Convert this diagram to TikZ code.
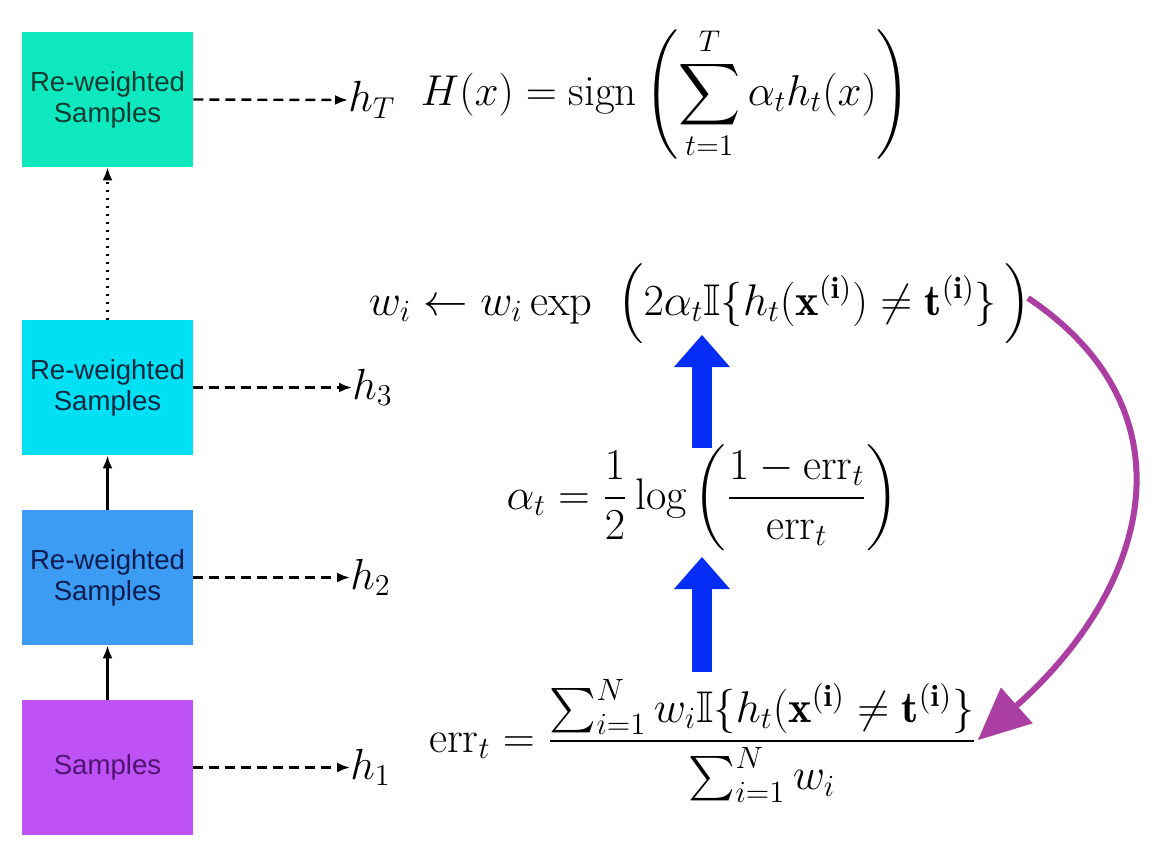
\documentclass[tikz,border=0pt]{standalone}
\usepackage{amsmath,amssymb}
\usepackage{fontspec}
\newfontfamily\boxfont{Liberation Sans}
\usetikzlibrary{arrows.meta}
\definecolor{boxT}{RGB}{14,232,190}
\definecolor{boxC}{RGB}{0,224,244}
\definecolor{boxB}{RGB}{60,155,242}
\definecolor{boxP}{RGB}{190,82,245}
\definecolor{txtT}{RGB}{15,60,50}
\definecolor{txtC}{RGB}{12,40,65}
\definecolor{txtB}{RGB}{10,28,80}
\definecolor{txtP}{RGB}{80,20,115}
\definecolor{arrowblue}{RGB}{5,45,245}
\definecolor{arrowpurple}{RGB}{170,62,162}
\begin{document}
\begin{tikzpicture}[x=0.5pt,y=-0.5pt,
  sbox/.style={minimum width=85.5pt,minimum height=67.5pt,inner sep=0pt,align=center,font=\boxfont\fontsize{13.8}{15.5}\selectfont},
  fm/.style={inner sep=0pt,font=\huge},
  dasharr/.style={line width=1.2pt,dash pattern=on 5pt off 3pt,-{Latex[length=6.5pt,width=5pt]}},
  solidarr/.style={line width=1.4pt,-{Latex[length=6.5pt,width=5pt]}},
  dotarr/.style={line width=1.2pt,dash pattern=on 0.8pt off 3.2pt,-{Latex[length=6.5pt,width=5pt]}},
  bluearr/.style={draw=arrowblue,line width=10pt,-{Triangle[length=16pt,width=28pt,line width=0pt]}},
  purparr/.style={draw=arrowpurple,line width=3pt,-{Triangle[length=26pt,width=24pt,line width=0pt]}}
]
\useasboundingbox (0,0) rectangle (1164,848);
% boxes
\node[sbox,fill=boxT,text=txtT] (bT) at (107.5,99.5) {Re-weighted\\Samples};
\node[sbox,fill=boxC,text=txtC] (b3) at (107.5,387.5) {Re-weighted\\Samples};
\node[sbox,fill=boxB,text=txtB] (b2) at (107.5,577.5) {Re-weighted\\Samples};
\node[sbox,fill=boxP,text=txtP] (b1) at (107.5,767.5) {Samples};
% h labels
\node[fm,anchor=west] (hT) at (348,100) {\scalebox{1.05}{$h_T$}};
\node[fm,anchor=west] (h3) at (352,387.5) {\scalebox{1.05}{$h_3$}};
\node[fm,anchor=west] (h2) at (350,577.5) {\scalebox{1.05}{$h_2$}};
\node[fm,anchor=west] (h1) at (350,767.5) {\scalebox{1.05}{$h_1$}};
% vertical arrows
\draw[solidarr] (b1.north) -- (b2.south);
\draw[solidarr] (b2.north) -- (b3.south);
\draw[dotarr] (b3.north) -- (bT.south);
% dashed arrows
\draw[dasharr] (bT.east) -- (hT.west);
\draw[dasharr] (b3.east) -- (h3.west);
\draw[dasharr] (b2.east) -- (h2.west);
\draw[dasharr] (b1.east) -- (h1.west);
% formulas
\node[fm] (Hf) at (666,93) {\scalebox{1.04}{$\displaystyle H(x)=\operatorname{sign}\,\Biggl(\sum_{t=1}^{T}\alpha_t h_t(x)\Biggr)$}};
\node[fm] (wf) at (700,304) {\scalebox{1.07}{$w_i\leftarrow w_i\exp\;\;\Bigl(2\alpha_t\mathbb{I}\{h_t(\mathbf{x}^{(\mathbf{i})})\neq\mathbf{t}^{(\mathbf{i})}\}\,\Bigr)$}};
\node[fm] (af) at (703,498) {\scalebox{1.065}{$\displaystyle \alpha_t=\frac{1}{2}\log\left(\frac{1-\mathrm{err}_t}{\mathrm{err}_t}\right)$}};
\node[fm] (ef) at (703,741) {\scalebox{1.07}{$\displaystyle \mathrm{err}_t=\frac{\sum_{i=1}^{N}w_i\mathbb{I}\{h_t(\mathbf{x}^{(\mathbf{i})}\neq\mathbf{t}^{(\mathbf{i})}\}}{\sum_{i=1}^{N}w_i}$}};
% blue arrows
\coordinate (ba1) at (702,672);
\coordinate (ba1t) at (702,557);
\coordinate (ba2) at (702,448);
\coordinate (ba2t) at (702,335);
\draw[bluearr] (ba1) -- (ba1t);
\draw[bluearr] (ba2) -- (ba2t);
% purple arrow
\coordinate (ps) at (1028,298);
\coordinate (pt) at (978,740);
\draw[purparr] (ps) .. controls (1195,410) and (1152,585) .. (pt);
\end{tikzpicture}
\end{document}
